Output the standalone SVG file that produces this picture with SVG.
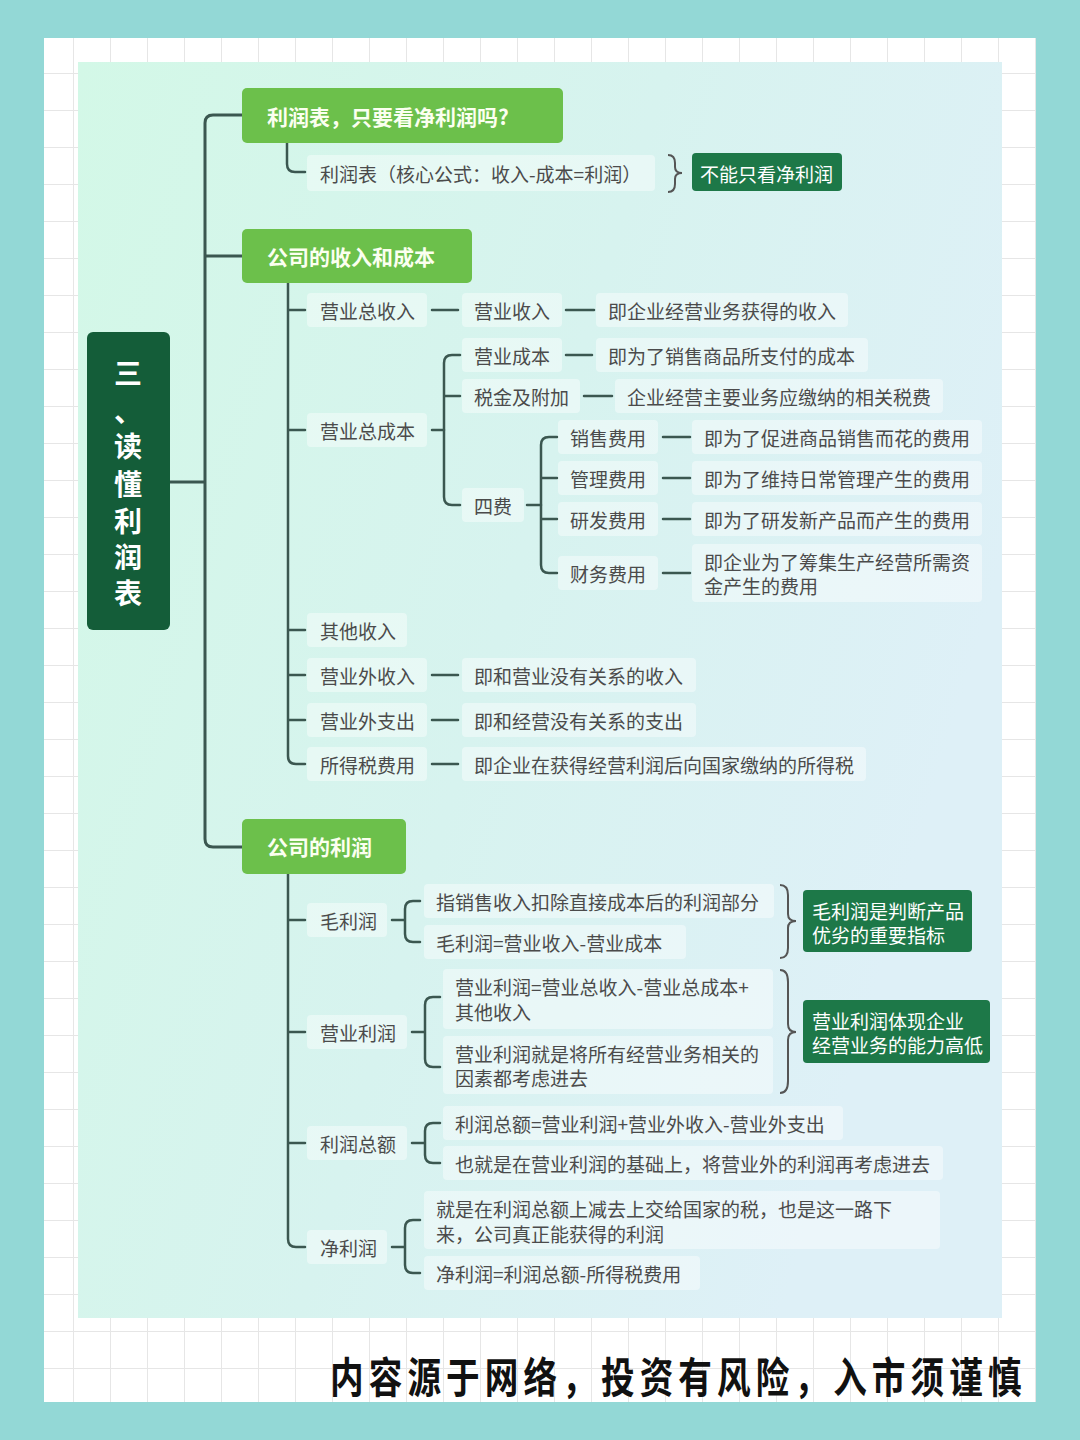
<svg xmlns="http://www.w3.org/2000/svg" width="1080" height="1440" viewBox="0 0 1080 1440">
<defs>
<pattern id="grid" x="36" y="36" width="37" height="37" patternUnits="userSpaceOnUse">
<path d="M0,0 H37 M0,0 V37" stroke="#e6e6e6" stroke-width="2" fill="none"/>
</pattern>
<linearGradient id="panel" x1="0" y1="0" x2="1" y2="0.4">
<stop offset="0" stop-color="#d3f8e7"/>
<stop offset="0.55" stop-color="#d7f3ef"/>
<stop offset="1" stop-color="#def0f7"/>
</linearGradient>
<style>
.t{font-family:"Noto Sans CJK SC","Noto Sans",sans-serif;font-size:19px;fill:#4b4b4b;dominant-baseline:central}
.h{font-family:"Noto Sans CJK SC","Noto Sans",sans-serif;font-size:21px;font-weight:bold;fill:#fbfff0;dominant-baseline:central}
.w{font-family:"Noto Sans CJK SC","Noto Sans",sans-serif;font-size:19px;fill:#ffffff;dominant-baseline:central}
.hb{fill:#6cc04b}
.db{fill:#1d7848}
.bg{fill:#ffffff;opacity:0.42}
.ln{stroke:#3b5750;stroke-width:2.5;fill:none;stroke-linecap:round}
.tr{stroke:#3b5750;stroke-width:3;fill:none}
.br{stroke:#555;stroke-width:2;fill:none}
</style>
</defs>
<rect x="0" y="0" width="1080" height="1440" fill="#93d8d6"/>
<rect x="44" y="38" width="992" height="1364" fill="#ffffff"/>
<rect x="44" y="38" width="992" height="1364" fill="url(#grid)"/>
<rect x="78" y="62" width="924" height="1256" fill="url(#panel)"/>

<g id="connectors">
<path class="tr" d="M170,482 H205 M213,115 Q205,115 205,123 V839 Q205,847 213,847 H242"/>
<path class="tr" d="M242,115 H213"/>
<path class="tr" d="M205,256 H242"/>
<path class="ln" d="M287,143 V164 Q287,172 295,172 H305"/>
<path class="ln" d="M288,283 V756 Q288,764 296,764 H305 M288,310 H305 M288,430 H305 M288,630 H305 M288,675 H305 M288,720 H305"/>
<path class="ln" d="M432,310 H458 M566,310 H594 M566,355 H592 M584,396 H612 M432,430 H444 M527,505 H541 M663,437 H690 M663,478 H690 M663,519 H690 M663,573 H690 M432,675 H458 M432,720 H458 M432,764 H458"/>
<path class="ln" d="M460,355 H452 Q444,355 444,363 V497 Q444,505 452,505 H460 M444,396 H460"/>
<path class="ln" d="M557,437 H549 Q541,437 541,445 V565 Q541,573 549,573 H557 M541,478 H557 M541,519 H557"/>
<path class="ln" d="M288,874 V1239 Q288,1247 296,1247 H305 M288,920 H305 M288,1032 H305 M288,1143 H305"/>
<path class="ln" d="M392,920 H405 M420,901 H413 Q405,901 405,909 V934 Q405,942 413,942 H420"/>
<path class="ln" d="M412,1032 H425 M440,997 H433 Q425,997 425,1005 V1059 Q425,1067 433,1067 H440"/>
<path class="ln" d="M412,1143 H425 M440,1123 H433 Q425,1123 425,1131 V1155 Q425,1163 433,1163 H440"/>
<path class="ln" d="M392,1247 H405 M420,1220 H413 Q405,1220 405,1228 V1265 Q405,1273 413,1273 H420"/>
<path class="br" d="M668,155 Q675,155 675,163 V167 Q675,173 682,173 Q675,173 675,179 V184 Q675,192 668,192"/>
<path class="br" d="M780,885 Q788,885 788,895 V914 Q788,921 796,921 Q788,921 788,928 V948 Q788,958 780,958"/>
<path class="br" d="M780,970 Q788,970 788,982 V1024 Q788,1032 796,1032 Q788,1032 788,1040 V1081 Q788,1093 780,1093"/>
</g>

<g id="root">
<rect x="87" y="332" width="83" height="298" rx="6" fill="#145d39"/>
<text class="h" text-anchor="middle" style="font-size:28px;fill:#ffffff"><tspan x="128" y="372">三</tspan><tspan x="128" y="410">、</tspan><tspan x="128" y="445">读</tspan><tspan x="128" y="483">懂</tspan><tspan x="128" y="520">利</tspan><tspan x="128" y="556">润</tspan><tspan x="128" y="592">表</tspan></text>
</g>

<g id="h1">
<rect class="hb" x="242" y="88" width="321" height="55" rx="5"/>
<text class="h" x="267" y="116">利润表，只要看净利润吗?</text>
</g>
<g id="h1c">
<rect class="bg" x="307" y="155" width="348" height="36" rx="4"/>
<text class="t" x="320" y="173">利润表（核心公式：收入-成本=利润）</text>
</g>
<g id="h1note">
<rect class="db" x="692" y="153" width="150" height="38" rx="4"/>
<text class="w" x="700" y="173">不能只看净利润</text>
</g>

<g id="h2">
<rect class="hb" x="242" y="229" width="230" height="54" rx="5"/>
<text class="h" x="267" y="256">公司的收入和成本</text>
</g>

<g id="n-zsr"><rect class="bg" x="307" y="293" width="120" height="34" rx="4"/><text class="t" x="320" y="310">营业总收入</text></g>
<g id="n-ysr"><rect class="bg" x="462" y="293" width="100" height="34" rx="4"/><text class="t" x="474" y="310">营业收入</text></g>
<g id="n-ysr-d"><rect class="bg" x="596" y="293" width="252" height="34" rx="4"/><text class="t" x="608" y="310">即企业经营业务获得的收入</text></g>
<g id="n-zcb"><rect class="bg" x="307" y="413" width="120" height="34" rx="4"/><text class="t" x="320" y="430">营业总成本</text></g>
<g id="n-ycb"><rect class="bg" x="462" y="338" width="100" height="34" rx="4"/><text class="t" x="474" y="355">营业成本</text></g>
<g id="n-ycb-d"><rect class="bg" x="596" y="338" width="272" height="34" rx="4"/><text class="t" x="608" y="355">即为了销售商品所支付的成本</text></g>
<g id="n-sj"><rect class="bg" x="462" y="379" width="118" height="34" rx="4"/><text class="t" x="474" y="396">税金及附加</text></g>
<g id="n-sj-d"><rect class="bg" x="615" y="379" width="328" height="34" rx="4"/><text class="t" x="627" y="396">企业经营主要业务应缴纳的相关税费</text></g>
<g id="n-sf"><rect class="bg" x="462" y="488" width="62" height="34" rx="4"/><text class="t" x="474" y="505">四费</text></g>
<g id="n-xs"><rect class="bg" x="558" y="420" width="100" height="34" rx="4"/><text class="t" x="570" y="437">销售费用</text></g>
<g id="n-xs-d"><rect class="bg" x="692" y="420" width="290" height="34" rx="4"/><text class="t" x="704" y="437">即为了促进商品销售而花的费用</text></g>
<g id="n-gl"><rect class="bg" x="558" y="461" width="100" height="34" rx="4"/><text class="t" x="570" y="478">管理费用</text></g>
<g id="n-gl-d"><rect class="bg" x="692" y="461" width="290" height="34" rx="4"/><text class="t" x="704" y="478">即为了维持日常管理产生的费用</text></g>
<g id="n-yf"><rect class="bg" x="558" y="502" width="100" height="34" rx="4"/><text class="t" x="570" y="519">研发费用</text></g>
<g id="n-yf-d"><rect class="bg" x="692" y="502" width="290" height="34" rx="4"/><text class="t" x="704" y="519">即为了研发新产品而产生的费用</text></g>
<g id="n-cw"><rect class="bg" x="558" y="556" width="100" height="34" rx="4"/><text class="t" x="570" y="573">财务费用</text></g>
<g id="n-cw-d"><rect class="bg" x="692" y="544" width="290" height="58" rx="4"/><text class="t"><tspan x="704" y="561">即企业为了筹集生产经营所需资</tspan><tspan x="704" y="585">金产生的费用</tspan></text></g>
<g id="n-qt"><rect class="bg" x="307" y="613" width="100" height="34" rx="4"/><text class="t" x="320" y="630">其他收入</text></g>
<g id="n-ywsr"><rect class="bg" x="307" y="658" width="120" height="34" rx="4"/><text class="t" x="320" y="675">营业外收入</text></g>
<g id="n-ywsr-d"><rect class="bg" x="462" y="658" width="234" height="34" rx="4"/><text class="t" x="474" y="675">即和营业没有关系的收入</text></g>
<g id="n-ywzc"><rect class="bg" x="307" y="703" width="120" height="34" rx="4"/><text class="t" x="320" y="720">营业外支出</text></g>
<g id="n-ywzc-d"><rect class="bg" x="462" y="703" width="234" height="34" rx="4"/><text class="t" x="474" y="720">即和经营没有关系的支出</text></g>
<g id="n-sds"><rect class="bg" x="307" y="747" width="120" height="34" rx="4"/><text class="t" x="320" y="764">所得税费用</text></g>
<g id="n-sds-d"><rect class="bg" x="462" y="747" width="404" height="34" rx="4"/><text class="t" x="474" y="764">即企业在获得经营利润后向国家缴纳的所得税</text></g>

<g id="h3">
<rect class="hb" x="242" y="819" width="164" height="55" rx="5"/>
<text class="h" x="267" y="846">公司的利润</text>
</g>

<g id="n-mlr"><rect class="bg" x="307" y="903" width="80" height="34" rx="4"/><text class="t" x="320" y="920">毛利润</text></g>
<g id="n-mlr-a"><rect class="bg" x="424" y="884" width="350" height="34" rx="4"/><text class="t" x="436" y="901">指销售收入扣除直接成本后的利润部分</text></g>
<g id="n-mlr-b"><rect class="bg" x="424" y="925" width="262" height="34" rx="4"/><text class="t" x="436" y="942">毛利润=营业收入-营业成本</text></g>
<g id="n-mlr-note"><rect class="db" x="803" y="890" width="169" height="62" rx="4"/><text class="w"><tspan x="812" y="910">毛利润是判断产品</tspan><tspan x="812" y="934">优劣的重要指标</tspan></text></g>

<g id="n-yylr"><rect class="bg" x="307" y="1015" width="100" height="34" rx="4"/><text class="t" x="320" y="1032">营业利润</text></g>
<g id="n-yylr-a"><rect class="bg" x="443" y="969" width="330" height="60" rx="4"/><text class="t"><tspan x="455" y="986">营业利润=营业总收入-营业总成本+</tspan><tspan x="455" y="1011">其他收入</tspan></text></g>
<g id="n-yylr-b"><rect class="bg" x="443" y="1036" width="330" height="58" rx="4"/><text class="t"><tspan x="455" y="1053">营业利润就是将所有经营业务相关的</tspan><tspan x="455" y="1077">因素都考虑进去</tspan></text></g>
<g id="n-yylr-note"><rect class="db" x="803" y="1000" width="187" height="63" rx="4"/><text class="w"><tspan x="812" y="1020">营业利润体现企业</tspan><tspan x="812" y="1044">经营业务的能力高低</tspan></text></g>

<g id="n-lrze"><rect class="bg" x="307" y="1126" width="100" height="34" rx="4"/><text class="t" x="320" y="1143">利润总额</text></g>
<g id="n-lrze-a"><rect class="bg" x="443" y="1106" width="400" height="34" rx="4"/><text class="t" x="455" y="1123">利润总额=营业利润+营业外收入-营业外支出</text></g>
<g id="n-lrze-b"><rect class="bg" x="443" y="1146" width="500" height="34" rx="4"/><text class="t" x="455" y="1163">也就是在营业利润的基础上，将营业外的利润再考虑进去</text></g>

<g id="n-jlr"><rect class="bg" x="307" y="1230" width="80" height="34" rx="4"/><text class="t" x="320" y="1247">净利润</text></g>
<g id="n-jlr-a"><rect class="bg" x="424" y="1191" width="516" height="58" rx="4"/><text class="t"><tspan x="436" y="1208">就是在利润总额上减去上交给国家的税，也是这一路下</tspan><tspan x="436" y="1233">来，公司真正能获得的利润</tspan></text></g>
<g id="n-jlr-b"><rect class="bg" x="424" y="1256" width="276" height="34" rx="4"/><text class="t" x="436" y="1273">净利润=利润总额-所得税费用</text></g>

<g id="footer">
<text transform="translate(330,1393) scale(0.8,1)" x="0" y="0" style="font-family:'Noto Sans CJK SC',sans-serif;font-size:42px;font-weight:bold;fill:#111;letter-spacing:6.4px">内容源于网络，投资有风险，入市须谨慎</text>
</g>
</svg>
